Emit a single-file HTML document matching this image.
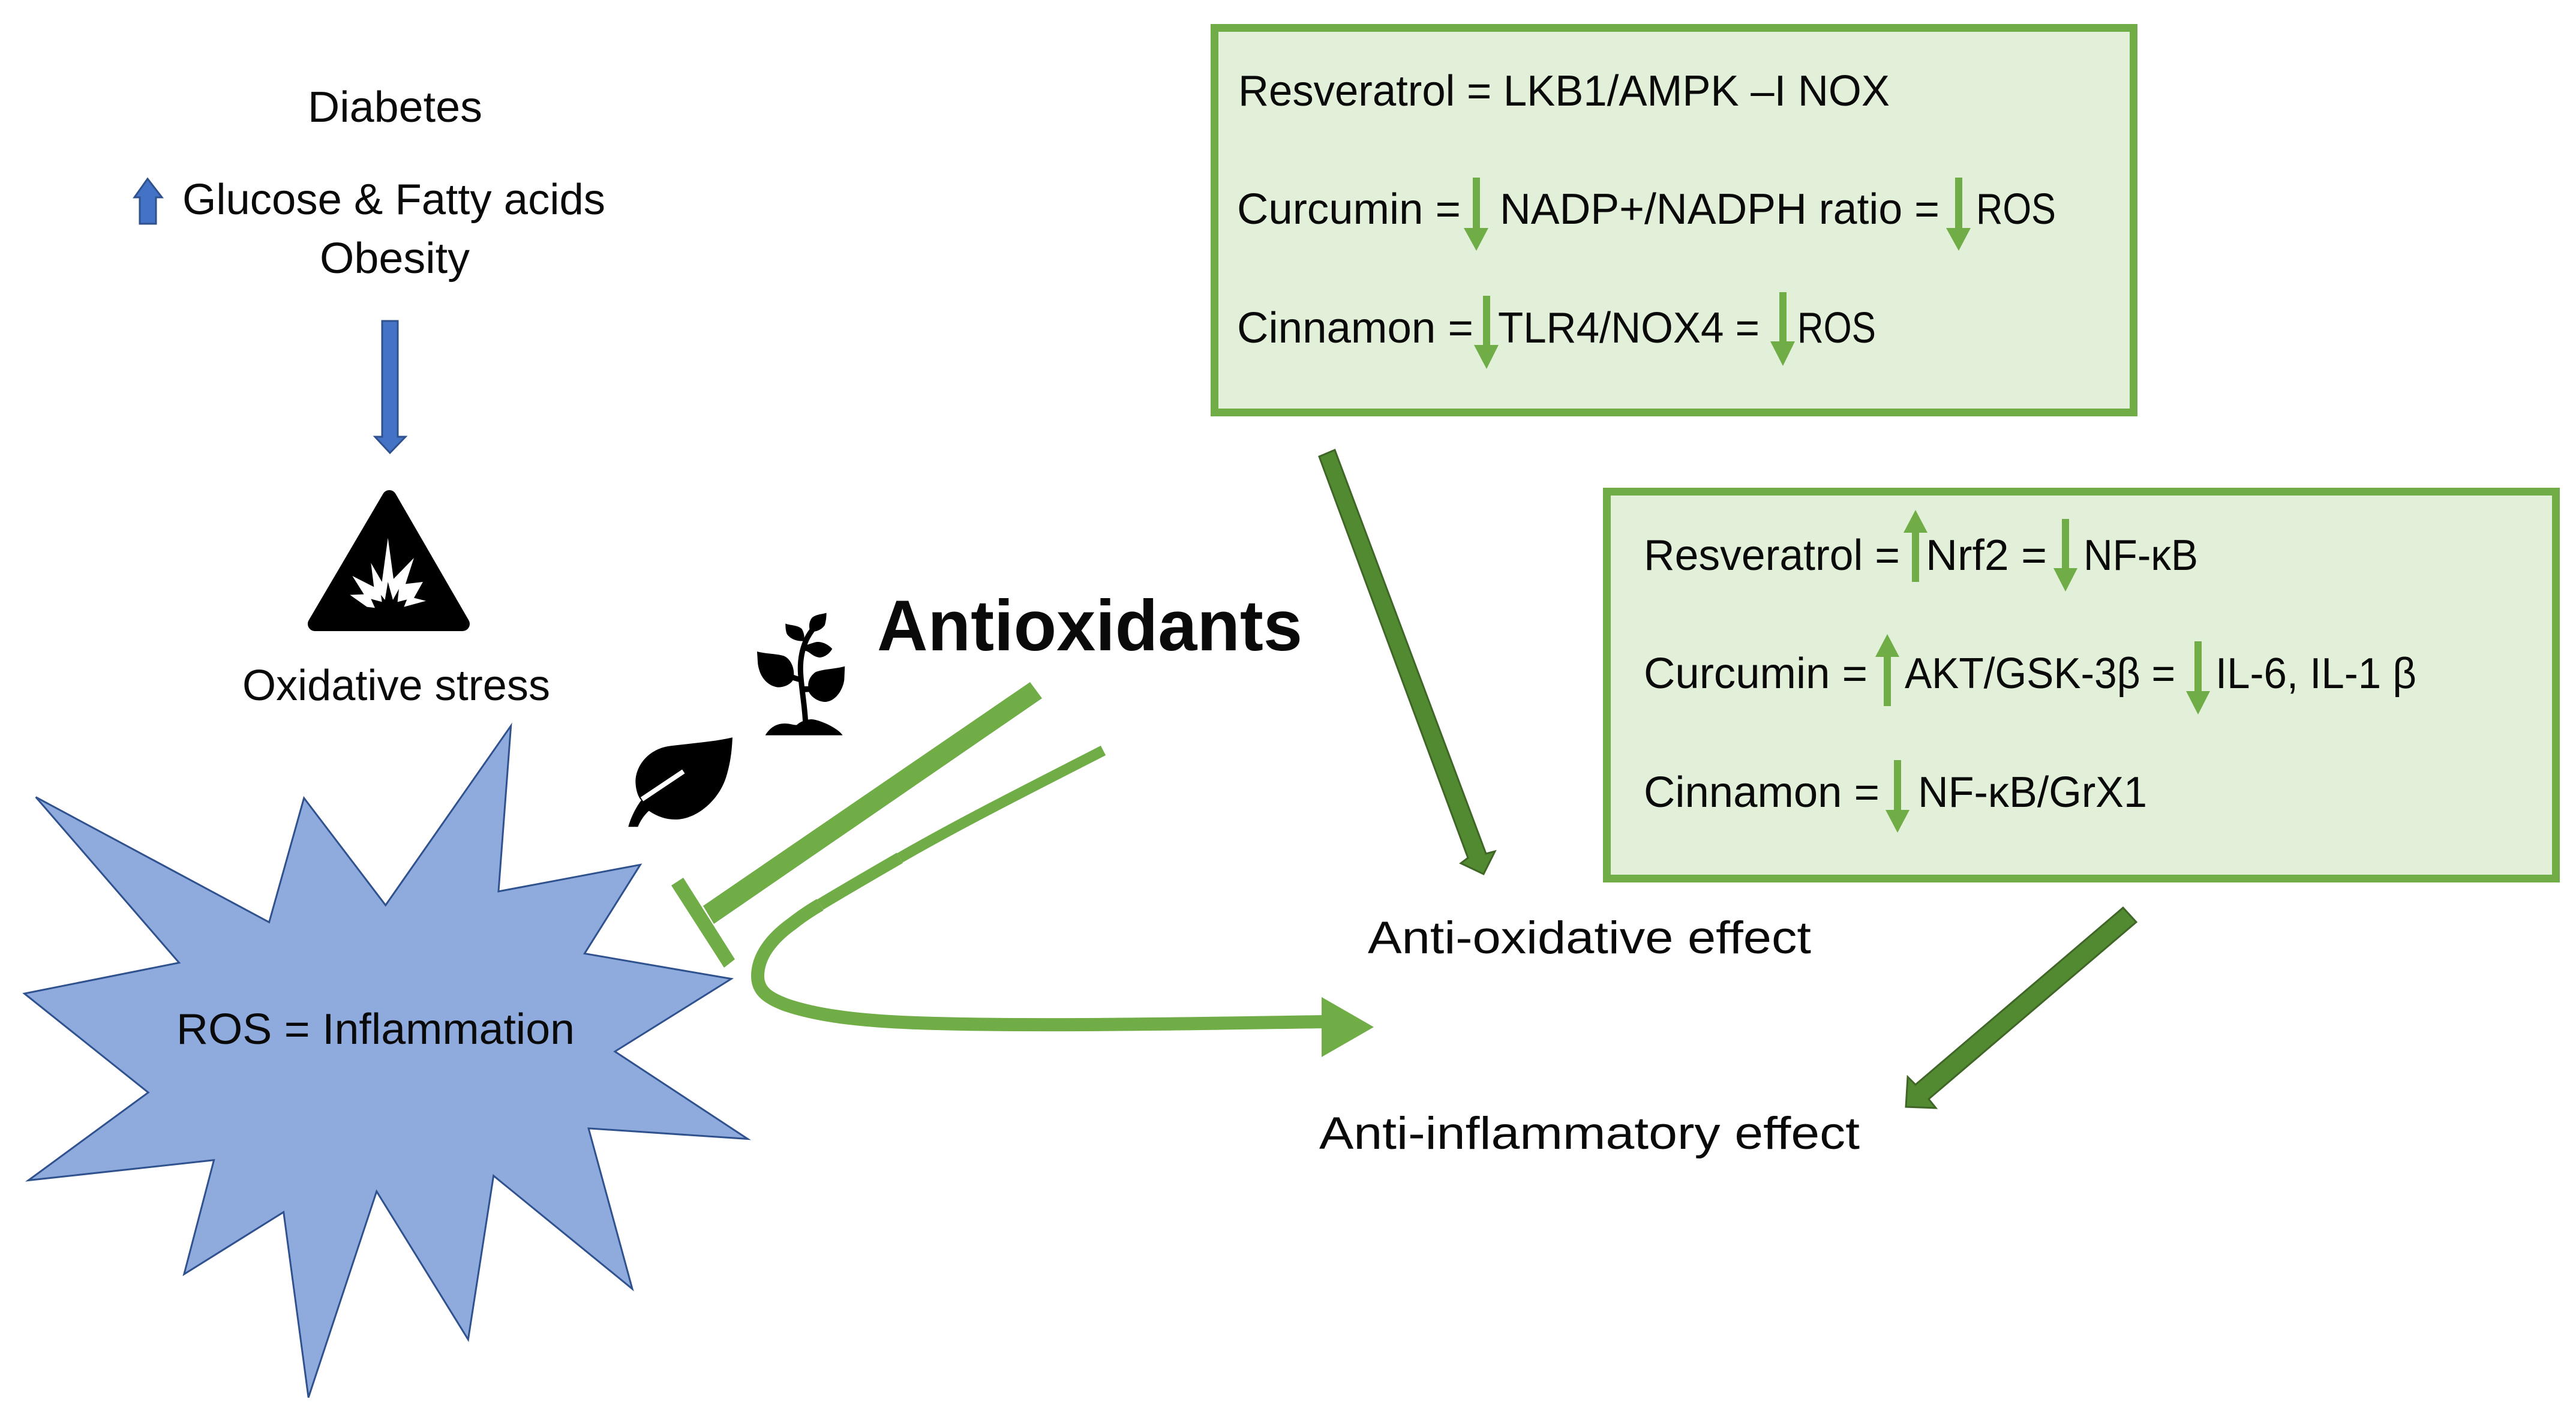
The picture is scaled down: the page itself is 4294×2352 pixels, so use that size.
<!DOCTYPE html>
<html>
<head>
<meta charset="utf-8">
<style>
html,body{margin:0;padding:0;background:#fff}
svg{display:block}
text{font-family:"Liberation Sans",sans-serif;font-size:72px;fill:#0a0a0a}
.g{fill:#70ad47}
.d{fill:#518a30;stroke:#3f6626;stroke-width:3}
.b{fill:#4472c4;stroke:#2f528f;stroke-width:3}
</style>
</head>
<body>
<svg width="4294" height="2352" viewBox="0 0 4294 2352" xmlns="http://www.w3.org/2000/svg">
<rect width="4294" height="2352" fill="#fff"/>

<!-- left column -->
<text x="513" y="203" textLength="291" lengthAdjust="spacingAndGlyphs">Diabetes</text>
<polygon class="b" points="233,373 260,373 260,329 270,329 246,298 224,329 233,329"/>
<text x="304" y="357" textLength="705" lengthAdjust="spacingAndGlyphs">Glucose &amp; Fatty acids</text>
<text x="533" y="455" textLength="250" lengthAdjust="spacingAndGlyphs">Obesity</text>
<polygon class="b" points="637,535 663,535 663,728 676,728 650,755 625,728 637,728"/>

<polygon points="649,829 771,1040 525,1040" fill="#000" stroke="#000" stroke-width="24" stroke-linejoin="round"/>
<g transform="translate(500,800) scale(0.3333)">
<polygon fill="#fff" points="440,290 468,495 570,390 528,520 615,510 570,590 630,605 520,635 535,598 488,610 495,545 465,600 440,510 425,600 405,575 410,610 355,595 375,640 335,635 250,575 320,572 262,480 370,535 355,415 410,510"/>
</g>
<text x="404" y="1167" textLength="513" lengthAdjust="spacingAndGlyphs">Oxidative stress</text>

<!-- star -->
<g transform="translate(0,1150) scale(0.8293,0.7669)">
<polygon fill="#8faadc" stroke="#2f528f" stroke-width="3" vector-effect="non-scaling-stroke" points="1027,78 1002,438 1287,380 1175,573 1470,628 1236,786 1503,976 1183,953 1271,1302 992,1056 941,1412 757,1090 620,1538 570,1135 370,1270 430,1022 57,1066 298,875 49,660 360,593 72,233 541,505 611,235 775,468"/>
</g>
<text x="294" y="1740" textLength="664" lengthAdjust="spacingAndGlyphs">ROS = Inflammation</text>

<!-- leaf and plant -->
<g transform="translate(1000,1000) scale(0.3333)">
<path fill="#000" d="M663,688 C560,712 440,718 340,732 C240,750 180,830 178,905 C178,945 190,985 207,1002 C185,1030 155,1085 142,1135 L190,1135 C202,1105 222,1075 245,1055 C290,1085 335,1100 385,1098 C480,1095 590,1010 630,890 C655,810 660,750 663,688 Z"/>
<path d="M418,858 L210,997" stroke="#fff" stroke-width="24" fill="none"/>
<path fill="#000" d="M827,677 C850,640 880,618 925,618 C950,618 975,628 985,625 C1000,610 1030,597 1060,597 C1100,600 1190,640 1214,677 Z"/>
<path d="M1028,610 C1024,520 1005,430 1003,350 C1002,290 1015,240 1030,205 C1040,180 1055,160 1070,140" stroke="#000" stroke-width="27" fill="none"/>
<path fill="#000" d="M786,258 C830,270 880,268 920,280 C955,295 972,340 970,375 L1000,385 L1000,412 L965,402 C950,425 920,437 890,437 C840,430 800,390 790,320 Z"/>
<path fill="#000" d="M1225,332 C1180,345 1120,345 1080,360 C1050,380 1040,410 1042,432 L1015,432 L1015,462 L1045,460 C1060,490 1095,510 1130,510 C1180,505 1215,450 1222,400 Z"/>
<path fill="#000" d="M1133,65 C1110,72 1080,72 1060,90 C1045,110 1045,130 1050,155 C1075,165 1110,150 1125,125 C1132,100 1133,80 1133,65 Z"/>
<path fill="#000" d="M928,118 C950,128 990,125 1010,145 C1022,165 1025,190 1020,205 C990,210 950,195 935,170 C928,150 928,130 928,118 Z"/>
<path fill="#000" d="M1162,245 C1145,225 1115,208 1085,210 C1060,215 1050,222 1020,228 L1020,255 C1045,250 1060,285 1100,288 C1130,285 1150,265 1162,245 Z"/>
</g>

<!-- inhibition -->
<polygon class="g" points="1717,1137 1737,1164 1190,1540 1172,1510"/>
<polygon class="g" points="1119,1476 1139,1463 1225,1599 1207,1613"/>

<text x="1462" y="1084" textLength="709" lengthAdjust="spacingAndGlyphs" style="font-size:120px;font-weight:700">Antioxidants</text>

<!-- curved arrow -->
<path d="M1839,1251 C1700,1322 1590,1378 1500,1430" fill="none" stroke="#70ad47" stroke-width="18"/>
<path d="M1500,1430 C1450,1459 1410,1482 1367,1508" fill="none" stroke="#70ad47" stroke-width="20"/>
<path d="M1367,1508 C1345,1521 1330,1532 1320,1540 C1285,1565 1263,1595 1263,1627 C1263,1655 1285,1665 1310,1675 C1360,1692 1430,1703 1560,1706 C1740,1711 2000,1706 2210,1703" fill="none" stroke="#70ad47" stroke-width="22"/>
<polygon class="g" points="2203,1662 2290,1712 2203,1762"/>

<!-- box 1 -->
<rect x="2024.5" y="46.5" width="1532" height="641" fill="#e2efd9" stroke="#70ad47" stroke-width="13"/>
<text x="2064" y="176" textLength="1086" lengthAdjust="spacingAndGlyphs">Resveratrol = LKB1/AMPK –I NOX</text>
<text x="2062" y="373" textLength="373" lengthAdjust="spacingAndGlyphs">Curcumin =</text>
<text x="2500" y="373" textLength="733" lengthAdjust="spacingAndGlyphs">NADP+/NADPH ratio =</text>
<text x="3294" y="373" textLength="133" lengthAdjust="spacingAndGlyphs">ROS</text>
<text x="2062" y="571" textLength="394" lengthAdjust="spacingAndGlyphs">Cinnamon =</text>
<text x="2497" y="571" textLength="436" lengthAdjust="spacingAndGlyphs">TLR4/NOX4 =</text>
<text x="2996" y="571" textLength="131" lengthAdjust="spacingAndGlyphs">ROS</text>
<polygon class="g" points="2455,296 2467,296 2467,380 2481,380 2461,418 2440,380 2455,380"/>
<polygon class="g" points="3259,296 3271,296 3271,380 3285,380 3265,418 3244,380 3259,380"/>
<polygon class="g" points="2472,493 2484,493 2484,575 2498,575 2478,615 2457,575 2472,575"/>
<polygon class="g" points="2966,487 2978,487 2978,569 2992,569 2972,610 2951,569 2966,569"/>

<!-- box 2 -->
<rect x="2678.5" y="819.5" width="1582" height="645" fill="#e2efd9" stroke="#70ad47" stroke-width="13"/>
<text x="2740" y="950" textLength="427" lengthAdjust="spacingAndGlyphs">Resveratrol =</text>
<text x="3210" y="950" textLength="202" lengthAdjust="spacingAndGlyphs">Nrf2 =</text>
<text x="3473" y="950" textLength="191" lengthAdjust="spacingAndGlyphs">NF-κB</text>
<text x="2740" y="1147" textLength="373" lengthAdjust="spacingAndGlyphs">Curcumin =</text>
<text x="3175" y="1147" textLength="451" lengthAdjust="spacingAndGlyphs">AKT/GSK-3β =</text>
<text x="3693" y="1147" textLength="335" lengthAdjust="spacingAndGlyphs">IL-6, IL-1 β</text>
<text x="2740" y="1345" textLength="393" lengthAdjust="spacingAndGlyphs">Cinnamon =</text>
<text x="3197" y="1345" textLength="382" lengthAdjust="spacingAndGlyphs">NF-κB/GrX1</text>
<polygon class="g" points="3187,970 3199,970 3199,888 3213,888 3193,850 3173,888 3187,888"/>
<polygon class="g" points="3437,865 3449,865 3449,947 3463,947 3443,986 3423,947 3437,947"/>
<polygon class="g" points="3140,1177 3152,1177 3152,1095 3166,1095 3146,1057 3126,1095 3140,1095"/>
<polygon class="g" points="3658,1069 3670,1069 3670,1152 3684,1152 3664,1191 3644,1152 3658,1152"/>
<polygon class="g" points="3157,1267 3169,1267 3169,1350 3183,1350 3163,1388 3143,1350 3157,1350"/>

<!-- dark arrows -->
<polygon class="d" points="2199,761 2225,750 2477,1423 2492,1419 2473,1457 2435,1439 2447,1430"/>
<polygon class="d" points="3539,1513 3561,1537 3215,1832 3227,1847 3177,1845 3180,1795 3193,1808"/>

<text x="2280" y="1589" textLength="739" lengthAdjust="spacingAndGlyphs" style="font-size:76px">Anti-oxidative effect</text>
<text x="2199" y="1915" textLength="901" lengthAdjust="spacingAndGlyphs" style="font-size:76px">Anti-inflammatory effect</text>
</svg>
</body>
</html>
